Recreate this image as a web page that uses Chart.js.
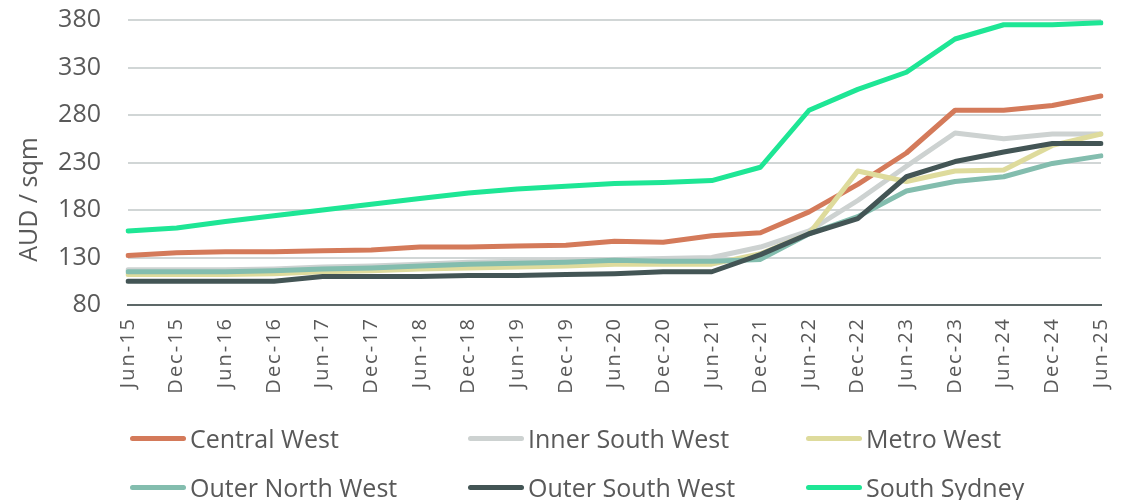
<!DOCTYPE html>
<html>
<head>
<meta charset="utf-8">
<title>AUD / sqm by region</title>
<script src="https://cdn.jsdelivr.net/npm/chart.js@4.4.0/dist/chart.umd.min.js"></script>
<style>
  html, body { margin: 0; padding: 0; background: #fff; }
  #wrap { position: relative; width: 1122px; height: 500px; }
  #legend {
    position: absolute; left: 130px; top: 423px;
    display: grid; grid-template-columns: 338px 338px 300px;
    row-gap: 19px;
    font-family: "Open Sans", sans-serif; font-size: 25px; color: #595959;
  }
  #legend .item { display: flex; align-items: center; height: 30px; white-space: nowrap; }
  #legend .swatch { width: 56px; height: 5px; border-radius: 3px; margin-right: 4px; }
</style>
</head>
<body>
<div id="wrap">
  <canvas id="rentChart"></canvas>
  <div id="legend"></div>
</div>
<script>
const periods = ['Jun-15', 'Dec-15', 'Jun-16', 'Dec-16', 'Jun-17', 'Dec-17', 'Jun-18',
  'Dec-18', 'Jun-19', 'Dec-19', 'Jun-20', 'Dec-20', 'Jun-21', 'Dec-21', 'Jun-22',
  'Dec-22', 'Jun-23', 'Dec-23', 'Jun-24', 'Dec-24', 'Jun-25'];

const centralWest    = [132, 135, 136, 136, 137, 138, 141, 141, 142, 143, 147, 146, 153, 156, 178, 207, 240, 285, 285, 290, 300];
const innerSouthWest = [117, 117, 117, 118, 120, 121, 123, 125, 126, 127, 128, 129, 130, 141, 158, 190, 226, 261, 255, 260, 260];
const metroWest      = [112, 112, 112, 113, 115, 116, 118, 119, 120, 121, 123, 123, 123, 134, 155, 221, 210, 221, 222, 248, 260];
const outerNorthWest = [115, 115, 115, 116, 118, 119, 121, 123, 124, 125, 127, 126, 126, 128, 155, 173, 200, 210, 215, 229, 237];
const outerSouthWest = [105, 105, 105, 105, 110, 110, 110, 111, 111, 112, 113, 115, 115, 133, 155, 171, 215, 231, 241, 250, 250];
const southSydney    = [158, 161, 168, 174, 180, 186, 192, 198, 202, 205, 208, 209, 211, 225, 285, 307, 325, 360, 375, 375, 377];

const yTicks = [80, 130, 180, 230, 280, 330, 380];
const yTitle = 'AUD / sqm';

const series = [
  { label: 'Central West',     data: centralWest,    color: '#d47a5a' },
  { label: 'Inner South West', data: innerSouthWest, color: '#cdd2d1' },
  { label: 'Metro West',       data: metroWest,      color: '#dedb9c' },
  { label: 'Outer North West', data: outerNorthWest, color: '#83bdae' },
  { label: 'Outer South West', data: outerSouthWest, color: '#435555' },
  { label: 'South Sydney',     data: southSydney,    color: '#1ee695' }
];

const textColor = '#595959';
const font = '"Open Sans", sans-serif';

// x labels are drawn after the lines (ticks.z = 1) with wider tracking;
// the y title sits a bit below the middle of the plot
const axisText = {
  id: 'axisText',
  afterDatasetsDraw(chart) {
    chart.ctx.letterSpacing = '2px';
  },
  afterDraw(chart) {
    const { ctx, chartArea } = chart;
    ctx.letterSpacing = '0px';
    ctx.save();
    ctx.font = '25px ' + font;
    ctx.fillStyle = textColor;
    ctx.translate(30, (chartArea.top + chartArea.bottom) / 2 + 37);
    ctx.rotate(-Math.PI / 2);
    ctx.textAlign = 'center';
    ctx.textBaseline = 'middle';
    ctx.fillText(yTitle, 0, 0);
    ctx.restore();
  }
};

const chart = new Chart(document.getElementById('rentChart'), {
  type: 'line',
  data: {
    labels: periods,
    datasets: series.map((s, i) => ({
      label: s.label,
      data: s.data,
      borderColor: s.color,
      backgroundColor: s.color,
      borderWidth: 5,
      borderCapStyle: 'round',
      borderJoinStyle: 'round',
      pointRadius: 0,
      tension: 0,
      order: series.length - i
    }))
  },
  options: {
    responsive: true,
    maintainAspectRatio: false,
    animation: false,
    layout: { padding: { top: 20, right: 21, bottom: 95, left: 0 } },
    plugins: { legend: { display: false }, tooltip: { enabled: false } },
    scales: {
      x: {
        grid: { display: false, drawTicks: false },
        border: { display: true, color: '#5d6868', width: 2 },
        ticks: {
          z: 1,
          color: textColor,
          font: { family: font, size: 20 },
          maxRotation: 90, minRotation: 90,
          autoSkip: false,
          padding: 12
        },
        afterFit(scale) {
          scale.height = 100;
          scale.paddingLeft = 0;
          scale.paddingRight = 0;
        }
      },
      y: {
        min: 80, max: 380,
        afterBuildTicks(scale) { scale.ticks = yTicks.map(v => ({ value: v })); },
        grid: { color: '#d1d6d6', lineWidth: 2, drawTicks: false },
        border: { display: false },
        ticks: {
          color: textColor,
          font: { family: font, size: 25 },
          padding: 27
        },
        afterFit(scale) {
          scale.width = 128;
          scale.paddingTop = 0;
          scale.paddingBottom = 0;
        }
      }
    }
  },
  plugins: [axisText]
});

// legend in three fixed columns
const legend = document.getElementById('legend');
chart.data.datasets.forEach(ds => {
  const item = document.createElement('div');
  item.className = 'item';
  const sw = document.createElement('span');
  sw.className = 'swatch';
  sw.style.background = ds.borderColor;
  item.appendChild(sw);
  item.appendChild(document.createTextNode(ds.label));
  legend.appendChild(item);
});
</script>
</body>
</html>
